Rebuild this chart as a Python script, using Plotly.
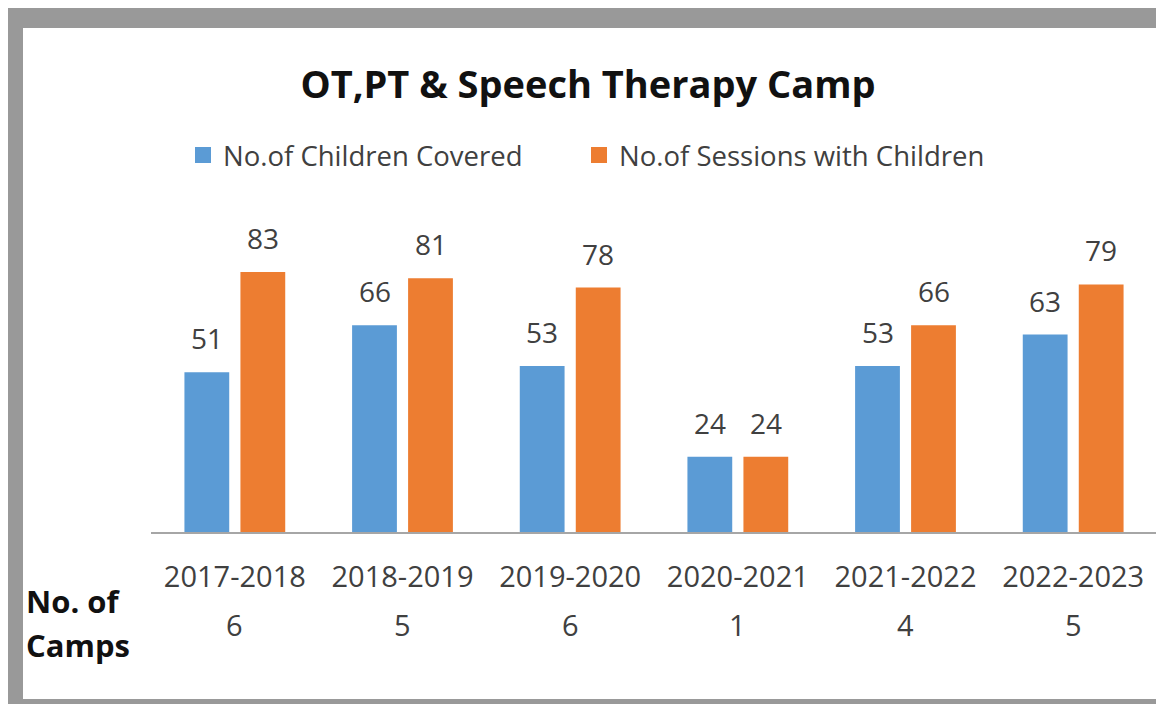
import plotly.graph_objects as go

W, H = 1164, 704
OFF = 8  # page body margin offset

years = ["2017-2018", "2018-2019", "2019-2020", "2020-2021", "2021-2022", "2022-2023"]
children = [51, 66, 53, 24, 53, 63]
sessions = [83, 81, 78, 24, 66, 79]
camps = [6, 5, 6, 1, 4, 5]

series_names = ["No.of Children Covered", "No.of Sessions with Children"]
colors = ["#5B9BD5", "#ED7D31"]
FONT = "Open Sans"
TXT = "#404040"
GRAY = "#999999"

fig = go.Figure()
for name, vals, col in zip(series_names, [children, sessions], colors):
    fig.add_trace(go.Bar(x=years, y=vals, name=name, marker=dict(color=col, line=dict(width=0)),
                         showlegend=False, hoverinfo="x+y"))
# legend proxies (square swatches)
for i, (name, col) in enumerate(zip(series_names, colors)):
    kw = dict(legendwidth=351) if i == 0 else {}
    fig.add_trace(go.Scatter(x=[None], y=[None], mode="markers", name=name,
                             marker=dict(symbol="square", size=16, color=col), **kw))

def px_x(p):
    return (p - OFF) / W

def px_y(p):
    return 1 - (p - OFF) / H

annotations = []
# data labels
for vals, shift in [(children, -28), (sessions, 28)]:
    for yr, v in zip(years, vals):
        annotations.append(dict(x=yr, y=v, xref="x", yref="y", text=str(v), showarrow=False,
                                xshift=shift, yshift=34, yanchor="middle", xanchor="center",
                                font=dict(family=FONT, size=28, color=TXT)))
# camp counts
for yr, c in zip(years, camps):
    annotations.append(dict(x=yr, y=px_y(624), xref="x", yref="paper", text=str(c), showarrow=False,
                            yanchor="middle", xanchor="center",
                            font=dict(family=FONT, size=29, color=TXT)))
annotations.append(dict(x=px_x(24), y=px_y(601), xref="paper", yref="paper", text="<b>No. of</b>",
                        showarrow=False, xanchor="left", yanchor="middle",
                        font=dict(family=FONT, size=31, color="#111111")))
annotations.append(dict(x=px_x(24), y=px_y(645), xref="paper", yref="paper", text="<b>Camps</b>",
                        showarrow=False, xanchor="left", yanchor="middle",
                        font=dict(family=FONT, size=31, color="#111111")))

shapes = [
    dict(type="rect", xref="paper", yref="paper", x0=0, x1=1, y0=px_y(28), y1=1,
         fillcolor=GRAY, line=dict(width=0)),
    dict(type="rect", xref="paper", yref="paper", x0=0, x1=px_x(23), y0=0, y1=1,
         fillcolor=GRAY, line=dict(width=0)),
    dict(type="rect", xref="paper", yref="paper", x0=px_x(1156), x1=1, y0=0, y1=1,
         fillcolor=GRAY, line=dict(width=0)),
    dict(type="rect", xref="paper", yref="paper", x0=0, x1=1, y0=0, y1=px_y(699),
         fillcolor=GRAY, line=dict(width=0)),
]

fig.update_layout(
    width=W, height=H,
    margin=dict(l=0, r=0, t=0, b=0),
    paper_bgcolor="white", plot_bgcolor="rgba(0,0,0,0)",
    barmode="group", bargap=0.332, bargroupgap=0.2,
    title=dict(text="<b>OT,PT & Speech Therapy Camp</b>", x=px_x(588), xanchor="center",
               y=px_y(85), yanchor="middle", font=dict(family=FONT, size=38, color="#111111")),
    legend=dict(orientation="h", x=px_x(183), xanchor="left", y=px_y(155), yanchor="middle",
                font=dict(family=FONT, size=27.5, color=TXT), itemsizing="trace",
                bgcolor="rgba(0,0,0,0)"),
    xaxis=dict(domain=[px_x(151), px_x(1157)], showline=True, linecolor="#A6A6A6", linewidth=1.5,
               ticks="", showgrid=False, zeroline=False, fixedrange=True, ticklabelstandoff=18,
               tickfont=dict(family=FONT, size=29, color=TXT)),
    yaxis=dict(domain=[px_y(532), px_y(250)], range=[0, 90], visible=False, showgrid=False,
               zeroline=False),
    annotations=annotations,
    shapes=shapes,
    showlegend=True,
)

fig.write_html("out.html")
